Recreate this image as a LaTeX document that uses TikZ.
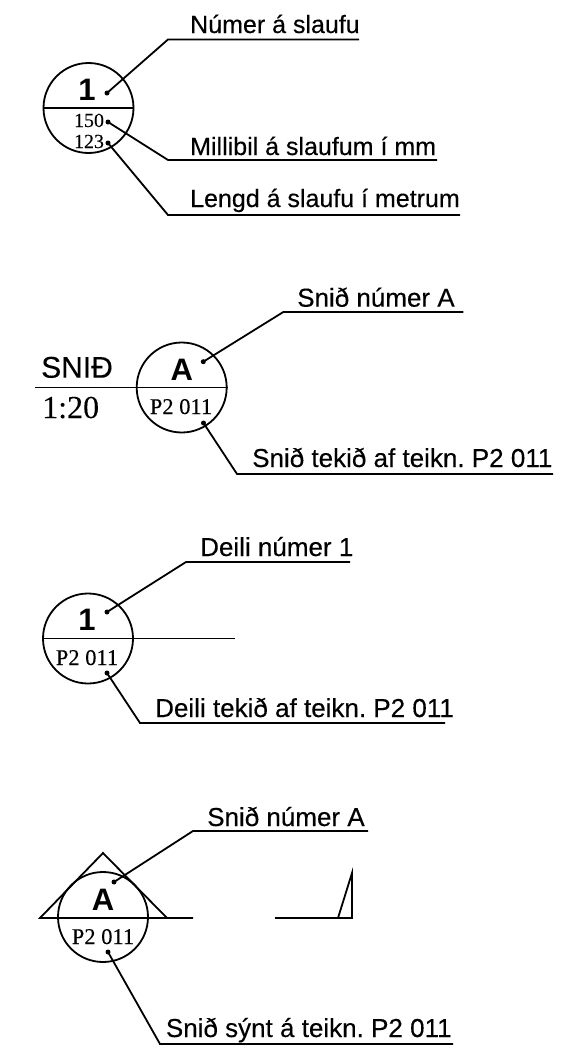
\documentclass[tikz,border=0pt]{standalone}
\usepackage{fontspec}
\setmainfont{Liberation Sans}
\newfontfamily\serifnum[FakeBold=0.15]{Liberation Serif}
\newfontfamily\capfont[FakeBold=0.25]{Liberation Sans}
\frenchspacing
\tikzset{
  x=1pt,y=-1pt,
  ink/.style={line width=1.8pt,black},
  ring/.style={circle,draw,line width=1.8pt,minimum size=90pt,inner sep=0pt},
  dot/.style={circle,fill=black,minimum size=5pt,inner sep=0pt},
  lead/.style={line width=1.8pt,line join=miter},
  caption/.style={anchor=base west,inner sep=0pt,font=\fontsize{26}{26}\capfont},
  captionA/.style={anchor=base west,inner sep=0pt,font=\fontsize{25}{25}\capfont},
  big/.style={anchor=base,inner sep=0pt,font=\fontsize{31}{31}\selectfont\bfseries},
  ref/.style={anchor=base,inner sep=0pt,font=\fontsize{22.5}{22.5}\serifnum},
  small/.style={anchor=base,inner sep=0pt,font=\fontsize{20}{20}\serifnum},
}
\begin{document}
\begin{tikzpicture}
\useasboundingbox (0,0) rectangle (560,1060);
\fill[white] (0,0) rectangle (560,1060);

% Block 1
\node[ring] (c1) at (88.5,108) {};
\draw[ink] (c1.west) -- (c1.east);
\node[big] (n1) at (87,100) {1};
\node[small] (v150) at (89,127) {150};
\node[small] (v123) at (89,148) {123};
\node[dot] (d1a) at (107,93) {};
\node[dot] (d1b) at (108,122) {};
\node[dot] (d1c) at (108,143) {};
\node[captionA] (t1a) at (190,33) {Númer á slaufu};
\node[captionA] (t1b) at (190,155) {Millibil á slaufum í mm};
\node[captionA] (t1c) at (190,207) {Lengd á slaufu í metrum};
\coordinate (k1a) at (168,39.5); \coordinate (e1a) at (359,39.5);
\coordinate (k1b) at (168,160); \coordinate (e1b) at (437,160);
\coordinate (k1c) at (168,215); \coordinate (e1c) at (460,215);
\draw[lead] (d1a.center) -- (k1a) -- (e1a);
\draw[lead] (d1b.center) -- (k1b) -- (e1b);
\draw[lead] (d1c.center) -- (k1c) -- (e1c);

% Block 2
\node[ring] (c2) at (181.7,387.5) {};
\coordinate (s2) at (35,387.5);
\draw[ink] (s2) -- (c2.east);
\node[big] (n2) at (181.7,380) {A};
\node[ref] (r2) at (181,414) {P2 011};
\node[anchor=base west,inner sep=0pt,font=\fontsize{30}{30}\capfont] (snid) at (41,377.7) {SNIÐ};
\node[anchor=base west,inner sep=0pt,font=\fontsize{32}{32}\serifnum] (scale) at (42,418) {1:20};
\node[dot] (d2a) at (203.3,361.7) {};
\node[dot] (d2b) at (203.5,423) {};
\node[caption] (t2a) at (297,306.7) {Snið númer A};
\node[caption] (t2b) at (252,467) {Snið tekið af teikn. P2 011};
\coordinate (k2a) at (283.3,312); \coordinate (e2a) at (463.3,312);
\coordinate (k2b) at (237,474); \coordinate (e2b) at (553,474);
\draw[lead] (d2a.center) -- (k2a) -- (e2a);
\draw[lead] (d2b.center) -- (k2b) -- (e2b);

% Block 3
\node[ring] (c3) at (88,638.5) {};
\coordinate (e3) at (235,638.5);
\draw[ink] (c3.west) -- (e3);
\node[big] (n3) at (87,630) {1};
\node[ref] (r3) at (87,665) {P2 011};
\node[dot] (d3a) at (107,612) {};
\node[dot] (d3b) at (107,673) {};
\node[caption] (t3a) at (200,556) {Deili númer 1};
\node[caption] (t3b) at (155,717) {Deili tekið af teikn. P2 011};
\coordinate (k3a) at (186,562); \coordinate (e3a) at (350,562);
\coordinate (k3b) at (140,723); \coordinate (e3b) at (445,723);
\draw[lead] (d3a.center) -- (k3a) -- (e3a);
\draw[lead] (d3b.center) -- (k3b) -- (e3b);

% Block 4
\node[ring] (c4) at (103,917) {};
\coordinate (tl) at (40,918); \coordinate (tt) at (103,853); \coordinate (tr) at (167,918);
\coordinate (lr) at (193,918);
\draw[ink,line join=miter] (tr) -- (tt) -- (tl) -- (lr);
\coordinate (m1) at (275,918); \coordinate (m2) at (338,918);
\coordinate (m3) at (352,873); \coordinate (m4) at (352,918);
\draw[ink] (m1) -- (m4) -- (m3) -- (m2);
\node[big] (n4) at (103,910) {A};
\node[ref] (r4) at (103,944) {P2 011};
\node[dot] (d4a) at (114,882) {};
\node[dot] (d4b) at (108,952) {};
\node[caption] (t4a) at (207,826) {Snið númer A};
\node[caption] (t4b) at (165.7,1037) {Snið sýnt á teikn. P2 011};
\coordinate (k4a) at (193,831); \coordinate (e4a) at (368,831);
\coordinate (k4b) at (160,1044); \coordinate (e4b) at (453,1044);
\draw[lead] (d4a.center) -- (k4a) -- (e4a);
\draw[lead] (d4b.center) -- (k4b) -- (e4b);
\end{tikzpicture}
\end{document}
